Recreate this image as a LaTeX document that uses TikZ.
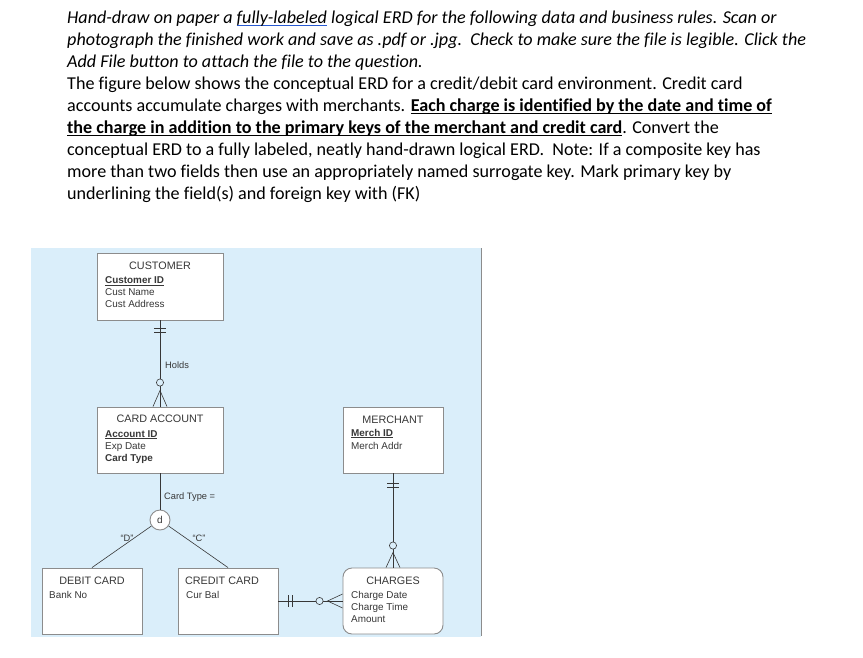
\documentclass[tikz,border=0pt]{standalone}
\usepackage{fontspec}
\usetikzlibrary{calc}
\newfontfamily\calfont[Ligatures={NoCommon}]{Carlito}
\setsansfont{Liberation Sans}
\definecolor{bgblue}{RGB}{218,238,250}
\definecolor{boxgray}{RGB}{140,140,140}
\definecolor{inkgray}{RGB}{55,55,55}
\definecolor{ulblue}{RGB}{40,90,210}
\newsavebox\ulbox
\newcommand\myul[3]{\sbox\ulbox{#3}\rlap{\textcolor{#1}{\rule[-0.17em]{\wd\ulbox}{#2}}}\usebox\ulbox}
\tikzset{
  para/.style={anchor=base west, inner sep=0pt, font=\calfont\fontsize{18.1}{22}\selectfont},
  entity/.style={draw=boxgray, line width=0.9pt, fill=white, inner sep=0pt},
  ttl/.style={anchor=base, inner sep=0pt, text=inkgray, font=\sffamily\fontsize{10.8}{12}\selectfont},
  attr/.style={anchor=base west, inner sep=0pt, text=inkgray, font=\sffamily\fontsize{9.9}{12}\selectfont},
  lbl/.style={anchor=base west, inner sep=0pt, text=inkgray, font=\sffamily\fontsize{9.3}{12}\selectfont},
  rel/.style={draw=inkgray, line width=0.6pt},
}
\begin{document}
\begin{tikzpicture}[x=1pt,y=-1pt]
\useasboundingbox (0,0) rectangle (863,657);
\fill[white] (0,0) rectangle (863,657);
% paragraph
\node[para] (l1) at (67,23) {\itshape Hand-draw on paper a \myul{ulblue}{1.2pt}{fully-labeled} logical ERD for the following data and business rules. Scan or};
\node[para] (l2) at (67,45) {\itshape photograph the finished work and save as .pdf or .jpg.\ \ Check to make sure the file is legible. Click the};
\node[para] (l3) at (67,67) {\itshape Add File button to attach the file to the question.};
\node[para] (l4) at (67,89) {The figure below shows the conceptual ERD for a credit/debit card environment. Credit card};
\node[para] (l5) at (67,111) {accounts accumulate charges with merchants. \myul{black}{1.5pt}{\textbf{Each charge is identified by the date and time of}}};
\node[para] (l6) at (67,133) {\myul{black}{1.5pt}{\textbf{the charge in addition to the primary keys of the merchant and credit card}}. Convert the};
\node[para] (l7) at (67,155) {conceptual ERD to a fully labeled, neatly hand-drawn logical ERD.\ \ Note: If a composite key has};
\node[para] (l8) at (67,177) {more than two fields then use an appropriately named surrogate key. Mark primary key by};
\node[para] (l9) at (67,199) {underlining the field(s) and foreign key with (FK)};
% background
\fill[bgblue] (31,248) rectangle (481,637);
\draw[boxgray, line width=1pt] (481,248) -- (481,636);
% entities
\node[entity, minimum width=126, minimum height=67] (cust) at (160,286.5) {};
\node[entity, minimum width=126, minimum height=66] (acct) at (160,440) {};
\node[entity, minimum width=100, minimum height=66] (merch) at (393,440) {};
\node[entity, minimum width=100, minimum height=66] (debit) at (92,601) {};
\node[entity, minimum width=100, minimum height=66] (credit) at (228,601) {};
\node[entity, minimum width=100, minimum height=66, rounded corners=9pt] (chg) at (393,601) {};
% texts
\node[ttl] (custT) at (160,269) {CUSTOMER};
\node[attr] (custA) at (105,283.5) {\myul{inkgray}{0.6pt}{\textbf{Customer ID}}};
\node[attr] (custB) at (105,295.5) {Cust Name};
\node[attr] (custC) at (105,307) {Cust Address};
\node[ttl] (acctT) at (160,422) {CARD ACCOUNT};
\node[attr] (acctA) at (105,437) {\myul{inkgray}{0.6pt}{\textbf{Account ID}}};
\node[attr] (acctB) at (105,449) {Exp Date};
\node[attr] (acctC) at (105,461) {\textbf{Card Type}};
\node[ttl] (merchT) at (393,423) {MERCHANT};
\node[attr] (merchA) at (351,436) {\myul{inkgray}{0.6pt}{\textbf{Merch ID}}};
\node[attr] (merchB) at (351,449) {Merch Addr};
\node[ttl] (debitT) at (92,584) {DEBIT CARD};
\node[attr] (debitA) at (49,598) {Bank No};
\node[ttl] (creditT) at (222,584) {CREDIT CARD};
\node[attr] (creditA) at (186,598) {Cur Bal};
\node[ttl] (chgT) at (393,584) {CHARGES};
\node[attr] (chgA) at (351,598) {Charge Date};
\node[attr] (chgB) at (351,610) {Charge Time};
\node[attr] (chgC) at (351,622) {Amount};
% relationship: customer - card account
\draw[rel] (cust.south) -- (acct.north);
\draw[rel] ($(cust.south)+(-6,8)$) -- ($(cust.south)+(6,8)$);
\draw[rel] ($(cust.south)+(-6,12)$) -- ($(cust.south)+(6,12)$);
\draw[rel, fill=bgblue] ($(acct.north)+(0,-24)$) circle (3.6);
\draw[rel] ($(acct.north)+(-7,0)$) -- ($(acct.north)+(0,-16)$) -- ($(acct.north)+(7,0)$);
\node[lbl] (holds) at (165,368) {Holds};
% subtype
\node[circle, draw=boxgray, line width=0.9pt, fill=white, minimum size=20, inner sep=0pt, text=inkgray, font=\sffamily\fontsize{10}{12}\selectfont] (dnode) at (160,520) {d};
\draw[rel] (acct.south) -- (dnode.north);
\draw[rel] (dnode) -- (debit.north);
\draw[rel] (dnode) -- (credit.north);
\node[lbl] (ctype) at (164,499.5) {Card Type =};
\node[lbl, anchor=base] (dq) at (127,541) {“D”};
\node[lbl, anchor=base] (cq) at (199,541) {“C”};
% merchant - charges
\draw[rel] (merch.south) -- (chg.north);
\draw[rel] ($(merch.south)+(-6,10)$) -- ($(merch.south)+(6,10)$);
\draw[rel] ($(merch.south)+(-6,14)$) -- ($(merch.south)+(6,14)$);
\draw[rel, fill=bgblue] ($(chg.north)+(0,-22)$) circle (3.6);
\draw[rel] ($(chg.north)+(-7,0)$) -- ($(chg.north)+(0,-15)$) -- ($(chg.north)+(7,0)$);
% credit card - charges
\draw[rel] (credit.east) -- (chg.west);
\draw[rel] ($(credit.east)+(10,-6)$) -- ($(credit.east)+(10,6)$);
\draw[rel] ($(credit.east)+(14,-6)$) -- ($(credit.east)+(14,6)$);
\draw[rel, fill=bgblue] ($(chg.west)+(-23,0)$) circle (3.6);
\draw[rel] ($(chg.west)+(0,-7)$) -- ($(chg.west)+(-15,0)$) -- ($(chg.west)+(0,7)$);
\end{tikzpicture}
\end{document}
